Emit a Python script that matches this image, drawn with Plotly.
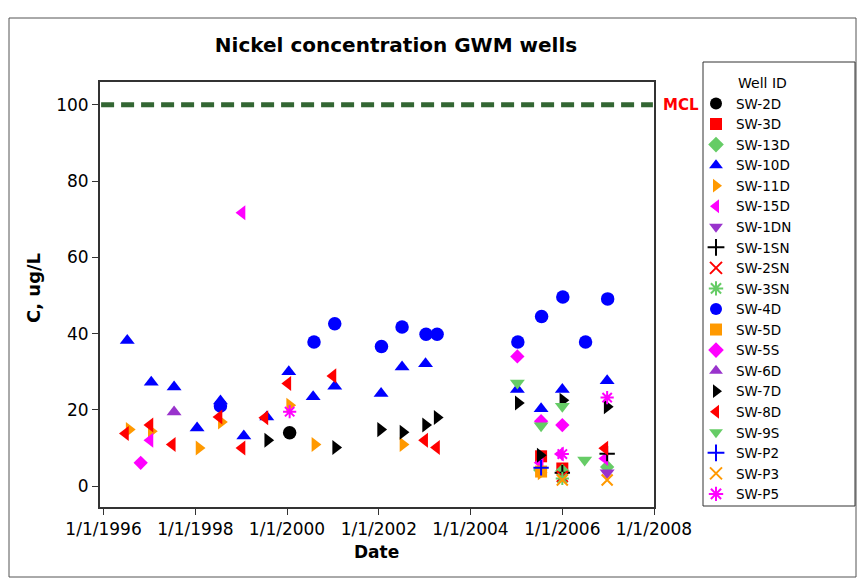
import plotly.graph_objects as go

# Nickel concentrations (ug/L) by monitoring well and sampling date
wells = ["SW-2D", "SW-3D", "SW-13D", "SW-10D", "SW-11D", "SW-15D", "SW-1DN",
         "SW-1SN", "SW-2SN", "SW-3SN", "SW-4D", "SW-5D", "SW-5S", "SW-6D",
         "SW-7D", "SW-8D", "SW-9S", "SW-P2", "SW-P3", "SW-P5"]

sw2d_dates = ["2000-01-22"]
sw2d_vals = [14.0]

sw3d_dates = ["2005-07-16", "2006-01-01"]
sw3d_vals = [7.8, 4.6]

sw13d_dates = ["2005-07-09", "2006-01-01", "2006-12-24"]
sw13d_vals = [4.2, 4.0, 5.0]

sw10d_dates = ["1996-07-08", "1997-01-15", "1997-07-16", "1998-01-15", "1998-07-20",
               "1999-01-22", "1999-07-24", "2000-01-15", "2000-07-27", "2001-01-15",
               "2002-01-19", "2002-07-05", "2003-01-08", "2005-01-08", "2005-07-16",
               "2006-01-01", "2006-12-24"]
sw10d_vals = [38.2, 27.2, 26.0, 15.2, 22.3, 13.1, 18.1, 30.0, 23.4, 26.2,
              24.3, 31.2, 32.1, 25.3, 20.3, 25.3, 27.6]

sw11d_dates = ["1996-07-23", "1997-01-15", "1998-01-30", "1998-07-27", "2000-01-22",
               "2000-08-10", "2002-07-12", "2005-07-16"]
sw11d_vals = [14.8, 14.4, 10.0, 16.8, 21.2, 10.9, 10.9, 3.5]

sw15d_dates = ["1997-01-05", "1999-01-08", "2005-07-09", "2005-12-17", "2006-12-06"]
sw15d_vals = [12.0, 71.7, 6.1, 8.4, 7.2]

sw1dn_dates = ["2006-12-24"]
sw1dn_vals = [3.5]

sw1sn_dates = ["2006-01-01", "2006-12-24"]
sw1sn_vals = [3.5, 8.5]

sw2sn_dates = ["2006-01-01"]
sw2sn_vals = [2.5]

sw3sn_dates = ["2006-01-01"]
sw3sn_vals = [2.0]

sw4d_dates = ["1998-07-20", "2000-08-03", "2001-01-15", "2002-01-22", "2002-07-05",
              "2003-01-12", "2003-04-10", "2005-01-12", "2005-07-20", "2006-01-05",
              "2006-07-05", "2006-12-28"]
sw4d_vals = [21.0, 37.8, 42.6, 36.6, 41.7, 39.8, 39.8, 37.8, 44.5, 49.6, 37.8, 49.1]

sw5d_dates = ["2005-07-16"]
sw5d_vals = [3.8]

sw5s_dates = ["1996-10-23", "2005-01-08", "2005-07-16", "2006-01-01"]
sw5s_vals = [6.1, 34.0, 17.0, 16.0]

sw6d_dates = ["1997-07-16"]
sw6d_vals = [19.4]

sw7d_dates = ["1999-07-31", "2001-01-22", "2002-01-15", "2002-07-12", "2003-01-08",
              "2003-04-10", "2005-01-15", "2005-07-09", "2006-01-05", "2006-12-24"]
sw7d_vals = [12.0, 10.1, 14.8, 14.1, 16.0, 18.0, 21.8, 8.1, 22.5, 20.8]

sw8d_dates = ["1996-06-24", "1997-01-05", "1997-07-02", "1998-07-09", "1999-01-08",
              "1999-07-09", "2000-01-08", "2001-01-01", "2003-01-01", "2003-04-06",
              "2006-12-06"]
sw8d_vals = [13.8, 16.0, 10.9, 18.1, 10.0, 17.9, 26.9, 28.9, 12.0, 10.1, 9.9]

sw9s_dates = ["2005-01-08", "2005-07-16", "2006-01-01", "2006-06-28"]
sw9s_vals = [27.0, 15.8, 20.9, 6.8]

swp2_dates = ["2005-07-16"]
swp2_vals = [4.8]

swp3_dates = ["2006-01-01", "2006-12-24"]
swp3_vals = [1.6, 1.6]

swp5_dates = ["2000-01-22", "2006-01-01", "2006-12-24"]
swp5_vals = [19.5, 8.4, 23.2]

MCL = 100

series = [
    (sw2d_dates, sw2d_vals, "circle", "#000000"),
    (sw3d_dates, sw3d_vals, "square", "#ff0000"),
    (sw13d_dates, sw13d_vals, "diamond", "#66cc66"),
    (sw10d_dates, sw10d_vals, "triangle-up", "#0000ff"),
    (sw11d_dates, sw11d_vals, "triangle-right", "#ff9900"),
    (sw15d_dates, sw15d_vals, "triangle-left", "#ff00ff"),
    (sw1dn_dates, sw1dn_vals, "triangle-down", "#9933cc"),
    (sw1sn_dates, sw1sn_vals, "cross-thin", "#000000"),
    (sw2sn_dates, sw2sn_vals, "x-thin", "#ff0000"),
    (sw3sn_dates, sw3sn_vals, "asterisk", "#66cc66"),
    (sw4d_dates, sw4d_vals, "circle", "#0000ff"),
    (sw5d_dates, sw5d_vals, "square", "#ff9900"),
    (sw5s_dates, sw5s_vals, "diamond", "#ff00ff"),
    (sw6d_dates, sw6d_vals, "triangle-up", "#9933cc"),
    (sw7d_dates, sw7d_vals, "triangle-right", "#000000"),
    (sw8d_dates, sw8d_vals, "triangle-left", "#ff0000"),
    (sw9s_dates, sw9s_vals, "triangle-down", "#66cc66"),
    (swp2_dates, swp2_vals, "cross-thin", "#0000ff"),
    (swp3_dates, swp3_vals, "x-thin", "#ff9900"),
    (swp5_dates, swp5_vals, "asterisk", "#ff00ff"),
]

SIZES = {"circle": 13.5, "square": 12, "diamond": 11, "cross-thin": 11,
         "x-thin": 11, "asterisk": 11}

tick_vals = ["1996-01-01", "1998-01-01", "2000-01-01", "2002-01-01",
             "2004-01-01", "2006-01-01", "2008-01-01"]
tick_text = ["1/1/1996", "1/1/1998", "1/1/2000", "1/1/2002",
             "1/1/2004", "1/1/2006", "1/1/2008"]

FONT = "DejaVu Sans"
W, H = 858, 580
L, R, B = 100, 654, 507   # plot-area edges in pixels
AX_TOP = 82               # top of the axes frame
GS_TOP = 30               # top of the layout grid (leaves room for the legend)


def px_x(px):
    return (px - L) / (R - L)


def px_y(py):
    return (B - py) / (B - GS_TOP)


fig = go.Figure()
for name, (dates, vals, sym, col) in zip(wells, series):
    thin = sym in ("cross-thin", "x-thin", "asterisk")
    fig.add_trace(go.Scatter(
        x=dates, y=vals, mode="markers", name=name,
        marker=dict(symbol=sym, color=col, size=SIZES.get(sym, 13),
                    line=dict(color=col, width=2 if thin else 0)),
    ))

# MCL reference line
fig.add_shape(type="line", xref="paper", x0=0.002, x1=0.998, yref="y", y0=MCL, y1=MCL,
              line=dict(color="#336633", width=5, dash="13px,7px"), layer="above")
fig.add_annotation(text="<b>MCL</b>", xref="paper", x=px_x(681), yref="y", y=MCL,
                   xanchor="center", yanchor="middle", showarrow=False,
                   font=dict(family=FONT, size=15, color="#ff0000"))

# outer frame and legend box
fig.add_shape(type="rect", xref="paper", yref="paper",
              x0=px_x(9), x1=px_x(856), y0=px_y(577), y1=px_y(18),
              line=dict(color="#555555", width=1))
fig.add_shape(type="rect", xref="paper", yref="paper",
              x0=px_x(703), x1=px_x(855), y0=px_y(506), y1=px_y(62),
              line=dict(color="#333333", width=1), fillcolor="rgba(0,0,0,0)")

fig.add_annotation(text="<b>C, ug/L</b>", textangle=-90, xref="paper", x=px_x(33),
                   yref="paper", y=px_y(288), xanchor="center", yanchor="middle",
                   showarrow=False, font=dict(family=FONT, size=18, color="#000000"))
fig.add_annotation(text="<b>Date</b>", xref="paper", x=px_x(376),
                   yref="paper", y=px_y(552), xanchor="center", yanchor="middle",
                   showarrow=False, font=dict(family=FONT, size=17, color="#000000"))

fig.update_layout(
    width=W, height=H,
    margin=dict(l=L, r=W - R, t=GS_TOP, b=H - B),
    paper_bgcolor="white", plot_bgcolor="white",
    font=dict(family=FONT, color="#000000"),
    title=dict(text="<b>Nickel concentration GWM wells</b>", x=396 / W, xanchor="center",
               y=1 - 45 / H, yanchor="middle", font=dict(family=FONT, size=20)),
    xaxis=dict(type="date", range=["1995-12-04", "2008-01-01"],
               tickmode="array", tickvals=tick_vals, ticktext=tick_text,
               showgrid=False, zeroline=False, showline=True, linecolor="#333333",
               linewidth=2, mirror=True, ticks="outside", ticklen=6, tickwidth=1,
               tickcolor="#333333", tickfont=dict(family=FONT, size=17)),
    yaxis=dict(range=[-5.5, 106], domain=[0, (B - AX_TOP) / (B - GS_TOP)],
               tickmode="array", tickvals=[0, 20, 40, 60, 80, 100],
               showgrid=False, zeroline=False, showline=True, linecolor="#333333",
               linewidth=2, mirror=True, ticks="outside", ticklen=6, tickwidth=1,
               tickcolor="#333333", tickfont=dict(family=FONT, size=17)),
    showlegend=True,
    legend=dict(x=px_x(696), xanchor="left", y=px_y(70), yanchor="top",
                bgcolor="rgba(0,0,0,0)", borderwidth=0,
                title=dict(text="\u00a0" * 9 + "Well ID",
                           font=dict(family=FONT, size=14)),
                font=dict(family=FONT, size=13.5, color="#000000"),
                itemsizing="constant", tracegroupgap=0),
)

fig.write_html("out.html")
